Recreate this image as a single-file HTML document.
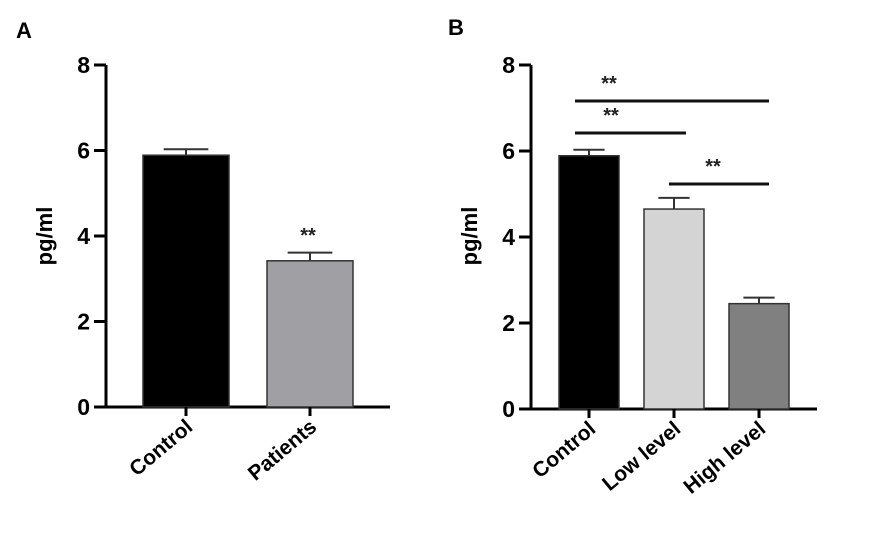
<!DOCTYPE html>
<html><head><meta charset="utf-8"><style>
html,body{margin:0;padding:0;background:#fff;}
svg{display:block;font-family:"Liberation Sans",Arial,sans-serif;font-weight:bold;}
</style></head><body>
<svg id="c" width="883" height="540" viewBox="0 0 883 540" xmlns="http://www.w3.org/2000/svg"></svg>
<script>
const catsA = ["Control","Patients"];
const valsA = [5.89, 3.42];
const errA = [0.14, 0.19];
const colorsA = ["#000000","#a0a0a4"];
const catsB = ["Control","Low level","High level"];
const valsB = [5.89, 4.65, 2.45];
const errB = [0.14, 0.26, 0.14];
const colorsB = ["#000000","#d4d4d4","#808080"];
const ticks = [0,2,4,6,8];
const sigB = [[0,2,"**"],[0,1,"**"],[1,2,"**"]];

const NS="http://www.w3.org/2000/svg";
const svg=document.getElementById('c');
function mk(tag,attrs,parent){const e=document.createElementNS(NS,tag);for(const k in attrs)e.setAttribute(k,attrs[k]);(parent||svg).appendChild(e);return e;}

function panel(cfg){
  const g=mk('g',{});
  
  
  const y=v=>cfg.y0-(v/8)*(cfg.y0-cfg.y8);
  const t=mk('text',{x:cfg.lx,y:cfg.ly,'font-size':22,fill:'#000'},g);t.textContent=cfg.letter;
  
  
  const ax=mk('line',{x1:cfg.ax,y1:cfg.y8,x2:cfg.ax,y2:cfg.y0+1.5,stroke:'#000','stroke-width':3},g);
  
  
  ticks.forEach(v=>{
    mk('line',{x1:cfg.ax-12,y1:y(v),x2:cfg.ax,y2:y(v),stroke:'#000','stroke-width':3},g);
    const tl=mk('text',{x:cfg.ax-16,y:y(v)+8,'font-size':23,'text-anchor':'end',fill:'#000'},g);
    tl.textContent=v;
    
    
  });
  const bl=mk('line',{x1:cfg.ax-12,y1:cfg.y0,x2:cfg.bx2,y2:cfg.y0,stroke:'#000','stroke-width':3},g);
  
  
  const yt=mk('text',{x:0,y:0,'font-size':22,'text-anchor':'middle',transform:`translate(${cfg.ytx},${cfg.yty}) rotate(-90)`,fill:'#000'},g);
  yt.textContent='pg/ml';
  
  
  cfg.cats.forEach((c,i)=>{
    const x0=cfg.first+i*cfg.step, cx=x0+cfg.bw/2;
    const r=mk('rect',{x:x0,y:y(cfg.vals[i]),width:cfg.bw,height:cfg.y0-y(cfg.vals[i]),fill:cfg.colors[i],stroke:'#333','stroke-width':1.5},g);
    
    
    const et=y(cfg.vals[i]+cfg.errs[i]);
    mk('line',{x1:cx,y1:et,x2:cx,y2:y(cfg.vals[i]),stroke:'#333','stroke-width':2},g);
    mk('line',{x1:cx-cfg.bw*0.26,y1:et,x2:cx+cfg.bw*0.26,y2:et,stroke:'#333','stroke-width':2},g);
    mk('line',{x1:cx,y1:cfg.y0,x2:cx,y2:cfg.y0+9,stroke:'#000','stroke-width':3},g);
    const xl=mk('text',{x:0,y:0,'font-size':21,'text-anchor':'end',transform:`translate(${cx+8},${cfg.y0+22}) rotate(-40)`,fill:'#000'},g);
    xl.textContent=c;
    
    
  });
  return {g,y};
}

const A=panel({name:'panel-a',letter:'A',lx:16,ly:38,ax:106,y0:407,y8:65,bx2:390,ytx:52,yty:236,
  cats:catsA,vals:valsA,errs:errA,colors:colorsA,first:143,step:124,bw:86});
const sa=mk('text',{x:308,y:242,'font-size':20,'text-anchor':'middle',fill:'#222'},A.g);
sa.textContent='**';



const B=panel({name:'panel-b',letter:'B',lx:448,ly:35,ax:531,y0:409,y8:65,bx2:817,ytx:477,yty:236,
  cats:catsB,vals:valsB,errs:errB,colors:colorsB,first:559,step:85,bw:60});
const centers=catsB.map((c,i)=>559+i*85+30);
const lineY=[101,133,184];
sigB.forEach((s,k)=>{
  const x1=centers[s[0]]-14+(s[0]===1?9:0), x2=centers[s[1]]+(s[1]===2?10:12);
  const l=mk('line',{x1:x1,y1:lineY[k],x2:x2,y2:lineY[k],stroke:'#111','stroke-width':3},B.g);
  
  
  const t=mk('text',{x:k===2?713:(k===0?609:611),y:lineY[k]-11,'font-size':20,'text-anchor':'middle',fill:'#222'},B.g);
  t.textContent=s[2];
  
  
});
</script>
</body></html>
